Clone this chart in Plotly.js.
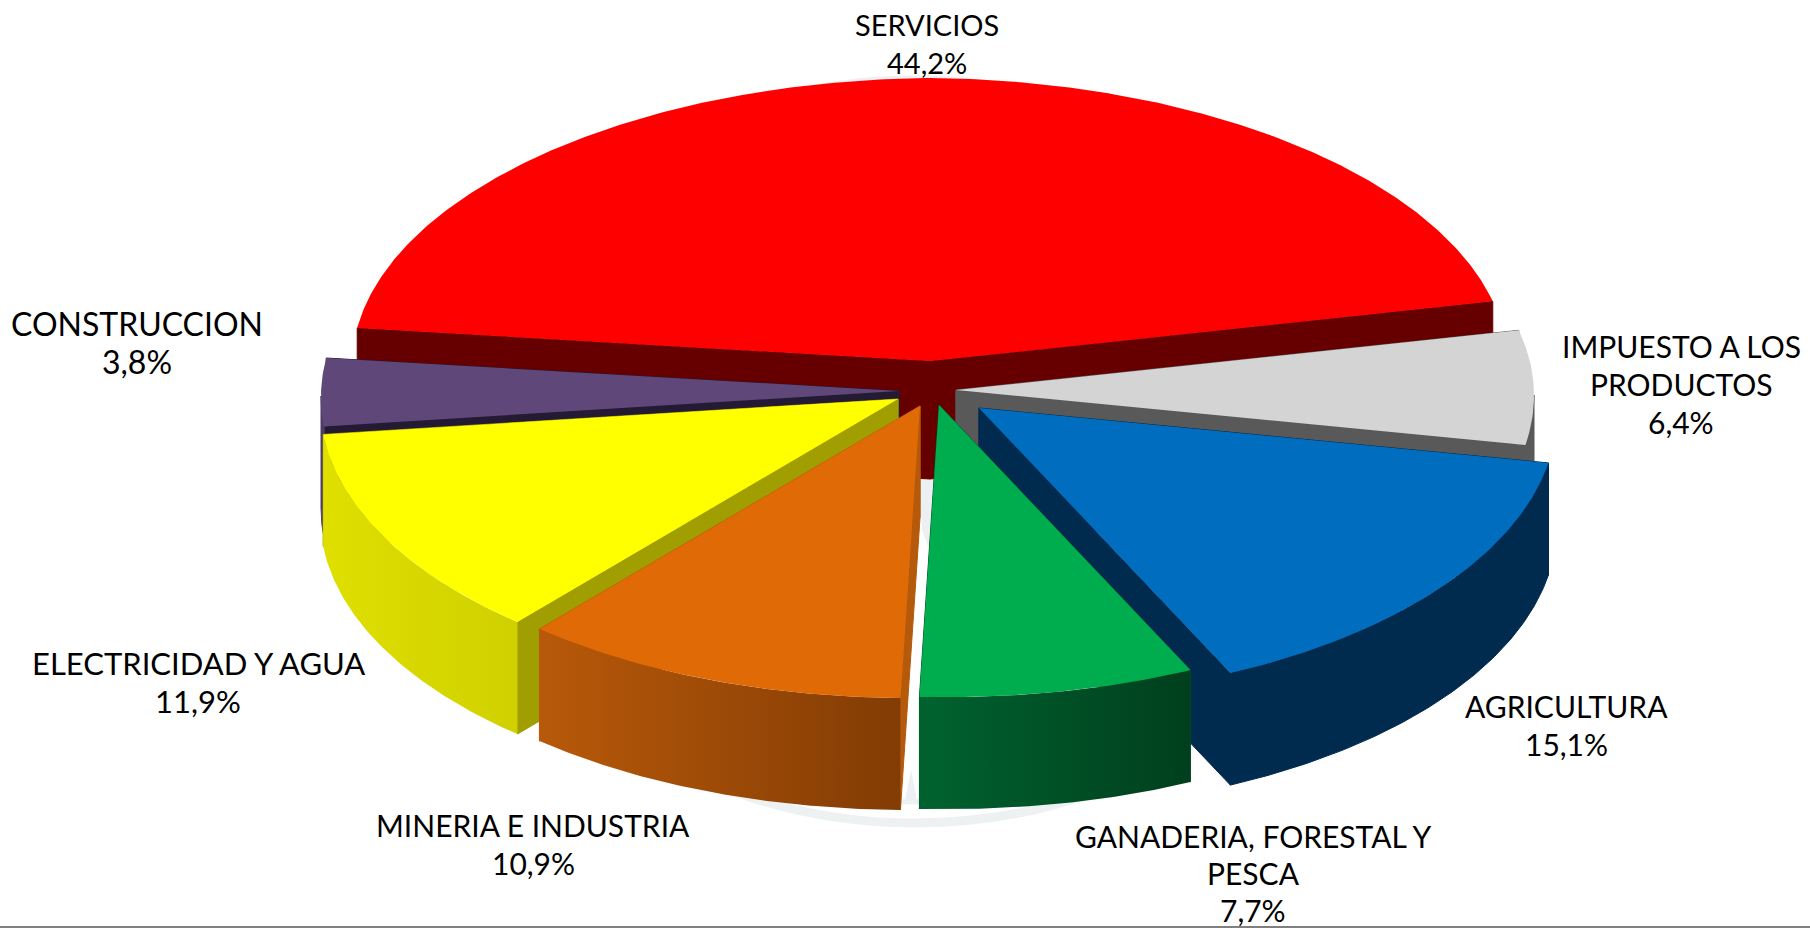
<!DOCTYPE html>
<html>
<head>
<meta charset="utf-8">
<script src="https://cdn.plot.ly/plotly-3.0.1.min.js"></script>
<style>html,body{margin:0;padding:0;background:#fff;overflow:hidden}#chart{width:1810px;height:928px}</style>
</head>
<body>
<div id="chart"></div>
<script>
// ---- data, clockwise from the red slice ----
var categories = ["SERVICIOS", "IMPUESTO A LOS PRODUCTOS", "AGRICULTURA", "GANADERIA, FORESTAL Y PESCA", "MINERIA E INDUSTRIA", "ELECTRICIDAD Y AGUA", "CONSTRUCCION"];
var shares = [44.2, 6.4, 15.1, 7.7, 10.9, 11.9, 3.8];
var shareLabels = ["44,2%", "6,4%", "15,1%", "7,7%", "10,9%", "11,9%", "3,8%"];

// ---- styling ----
var topColors  = ["#ff0000", "#d4d4d4", "#006dbf", "#00ad4e", "#e06a05", "#ffff00", "#5f4879"];
var faceColors = ["#660000", "#595959", "#002b4f", "#004f26", "#b5590a", "#a09e00", "#241a33"];
var wallLeft   = ["#660000", "#595959", "#002b4f", "#00622f", "#b8590a", "#dfdf00", "#4f3c66"];
var wallRight  = ["#660000", "#595959", "#002b4f", "#003f1d", "#823c04", "#d0d000", "#4f3c66"];
// exploded position of every slice's point on the page (layout, not data)
var explodeX = [930, 956, 979, 939, 920, 898, 899];
var explodeY = [361, 390, 408, 405, 406, 399, 391];
var depths   = [118, 112, 112, 112, 112, 112, 112];
var paintOrder = [0, 1, 2, 3, 6, 5, 4];
var startAngle = -82.3, radiusX = 578, radiusTop = 283, radiusBottom = 292, tilt = 5;

// ---- label placement (centre x, centre y of each text line, size) ----
var labelLines = [
  [["SERVICIOS"], 927, 24, 29],
  [["IMPUESTO A LOS", "PRODUCTOS"], 1681, 346, 30],
  [["AGRICULTURA"], 1566, 706, 30],
  [["GANADERIA, FORESTAL Y", "PESCA"], 1253, 836, 30],
  [["MINERIA E INDUSTRIA"], 533, 825, 30],
  [["ELECTRICIDAD Y AGUA"], 198, 663, 31],
  [["CONSTRUCCION"], 137, 323, 32]
];
var lineStep = 38, labelFont = "Lato, 'Noto Sans', sans-serif";

function rim(i, deg, dz) {
  var a = deg * Math.PI / 180, c = Math.cos(a), s = Math.sin(a);
  return [explodeX[i] + radiusX * s,
          explodeY[i] - (c > 0 ? radiusTop : radiusBottom) * c + tilt * Math.abs(s) + (dz || 0)];
}
function arc(i, a, b, dz) {
  var pts = [], n = Math.max(2, Math.ceil(Math.abs(b - a) * 2));
  for (var k = 0; k <= n; k++) pts.push(rim(i, a + (b - a) * k / n, dz));
  return pts;
}
function poly(points, color, name, hover, gradient, seal) {
  var t = {
    type: "scatter", mode: "lines", fill: "toself", name: name,
    x: points.map(function (p) { return p[0]; }).concat(points[0][0]),
    y: points.map(function (p) { return p[1]; }).concat(points[0][1]),
    line: { width: seal ? 1 : 0, color: color }, fillcolor: color,
    hoverinfo: "text", text: hover, hoveron: "fills"
  };
  if (gradient) t.fillgradient = { type: "horizontal", colorscale: [[0, gradient[0]], [1, gradient[1]]] };
  return t;
}

var total = shares.reduce(function (a, b) { return a + b; }, 0);
var spans = [], cursor = startAngle;
shares.forEach(function (v) { var s = v / total * 360; spans.push([cursor, cursor + s]); cursor += s; });

var traces = [];
paintOrder.forEach(function (i) {
  var a = spans[i][0], b = spans[i][1], d = depths[i], name = categories[i], hover = name + " " + shareLabels[i];
  var apex = [explodeX[i], explodeY[i]], apexLow = [explodeX[i], explodeY[i] + d];
  // the two cut faces
  traces.push(poly([apex, rim(i, a), rim(i, a, d), apexLow], faceColors[i], name, hover, null, true));
  traces.push(poly([apex, rim(i, b), rim(i, b, d), apexLow], faceColors[i], name, hover, null, true));
  // the outer wall, only where it faces the viewer
  var w0 = Math.max(a, 90), w1 = Math.min(b, 270);
  if (w1 > w0) {
    var wall = arc(i, w0, w1, 0).concat(arc(i, w1, w0, d));
    var flat = wallLeft[i] === wallRight[i];
    traces.push(poly(wall, wallLeft[i], name, hover, flat ? null : [wallLeft[i], wallRight[i]], flat));
  }
  // the top
  traces.push(poly([apex].concat(arc(i, a, b, 0)), topColors[i], name, hover));
});

var annotations = [];
labelLines.forEach(function (entry, i) {
  entry[0].concat(shareLabels[i]).forEach(function (line, k) {
    annotations.push({
      x: entry[1], y: entry[2] + k * (i === 3 ? lineStep - 1 : lineStep), xref: "x", yref: "y", text: line,
      showarrow: false, xanchor: "center", yanchor: "middle",
      font: { family: labelFont, size: entry[3], color: "#000" }
    });
  });
});

var layout = {
  width: 1810, height: 928, margin: { l: 0, r: 0, t: 0, b: 0 },
  paper_bgcolor: "#fff", plot_bgcolor: "#fff", showlegend: false, hovermode: "closest",
  xaxis: { range: [0, 1810], visible: false, fixedrange: true },
  yaxis: { range: [928, 0], visible: false, fixedrange: true },
  annotations: annotations,
  shapes: [
    // faint watermark seal behind the pie
    { type: "circle", layer: "below", x0: 465, x1: 1365, y0: 80, y1: 823, line: { color: "#edf1f2", width: 9 }, fillcolor: "rgba(0,0,0,0)" },
    { type: "circle", layer: "below", x0: 515, x1: 1315, y0: 100, y1: 802, line: { color: "#edf1f2", width: 5 }, fillcolor: "rgba(0,0,0,0)" },
    { type: "path", layer: "below", path: "M 919 478 L 936 478 L 933 560 L 922 530 Z", fillcolor: "#edf0f2", line: { width: 0 } },
    { type: "path", layer: "below", path: "M 911 770 L 905 800 L 917 800 Z", fillcolor: "#edf0f2", line: { width: 0 } },
    // rule at the foot of the page
    { type: "line", layer: "above", x0: 0, x1: 1810, y0: 927, y1: 927, line: { color: "#808080", width: 2 } }
  ]
};
Plotly.newPlot("chart", traces, layout, { displayModeBar: false });
</script>
</body>
</html>
